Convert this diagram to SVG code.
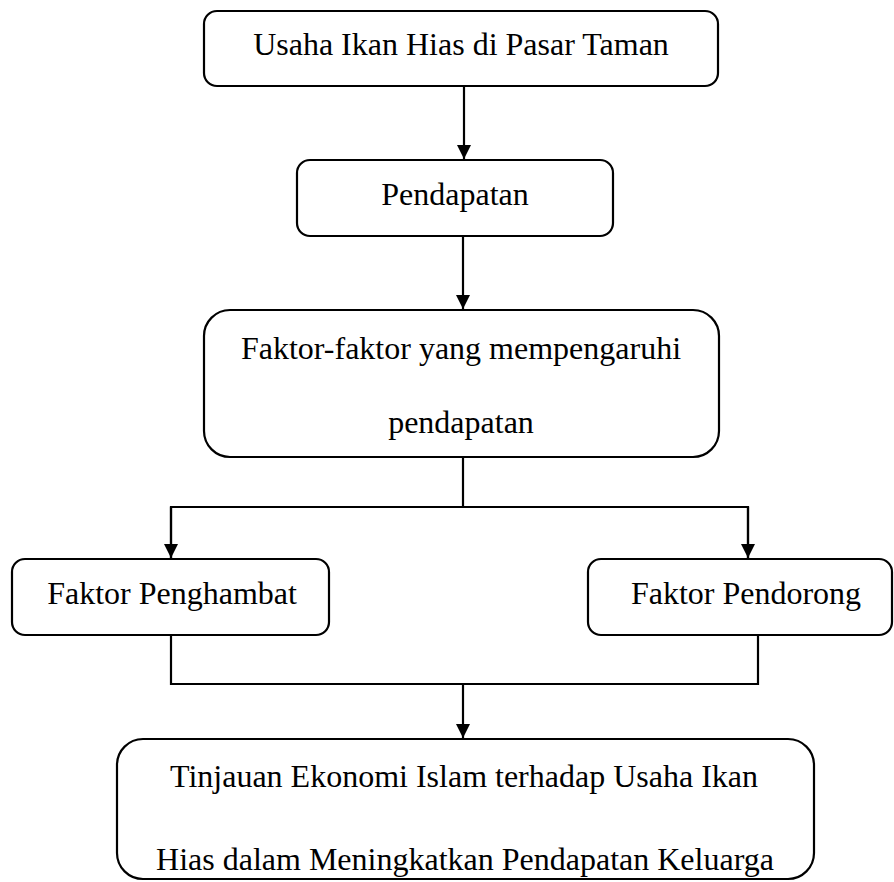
<svg xmlns="http://www.w3.org/2000/svg" width="894" height="882" viewBox="0 0 894 882">
<style>
.box{fill:#fff;stroke:#000;stroke-width:2.2}
.t{font-family:"Liberation Serif","Times New Roman",serif;font-size:32px;fill:#000;text-anchor:middle}
.c{fill:none;stroke:#000;stroke-width:2.2}
</style>
<defs>
<marker id="ah" markerWidth="14" markerHeight="15" refX="14" refY="7" orient="auto" markerUnits="userSpaceOnUse">
<path d="M0,0 L14,7 L0,14 Z" fill="#000"/>
</marker>
</defs>
<rect width="894" height="882" fill="#fff"/>
<g id="connectors">
<line class="c" x1="464" y1="86" x2="464" y2="159" marker-end="url(#ah)"/>
<line class="c" x1="463" y1="236" x2="463" y2="309" marker-end="url(#ah)"/>
<polyline class="c" points="463,457 463,507"/>
<polyline class="c" points="171,558 171,507 748,507 748,558"/>
<line class="c" x1="171" y1="507" x2="171" y2="558" marker-end="url(#ah)"/>
<line class="c" x1="748" y1="507" x2="748" y2="558" marker-end="url(#ah)"/>
<polyline class="c" points="171,635 171,684 758,684 758,635"/>
<line class="c" x1="463" y1="684" x2="463" y2="738" marker-end="url(#ah)"/>
</g>
<g id="n1">
<rect class="box" x="204" y="11" width="514" height="75" rx="13"/>
<text class="t" x="461" y="55">Usaha Ikan Hias di Pasar Taman</text>
</g>
<g id="n2">
<rect class="box" x="297" y="160" width="316" height="76" rx="13"/>
<text class="t" x="455" y="205">Pendapatan</text>
</g>
<g id="n3">
<rect class="box" x="204" y="310" width="515" height="147" rx="26"/>
<text class="t" x="461" y="359">Faktor-faktor yang mempengaruhi</text>
<text class="t" x="461" y="433">pendapatan</text>
</g>
<g id="n4">
<rect class="box" x="12" y="559" width="317" height="76" rx="13"/>
<text class="t" x="172" y="604">Faktor Penghambat</text>
</g>
<g id="n5">
<rect class="box" x="588" y="559" width="304" height="76" rx="13"/>
<text class="t" x="746" y="604">Faktor Pendorong</text>
</g>
<g id="n6">
<rect class="box" x="117" y="739" width="697" height="140" rx="26"/>
<text class="t" x="464" y="787">Tinjauan Ekonomi Islam terhadap Usaha Ikan</text>
<text class="t" x="465" y="870">Hias dalam Meningkatkan Pendapatan Keluarga</text>
</g>
</svg>
